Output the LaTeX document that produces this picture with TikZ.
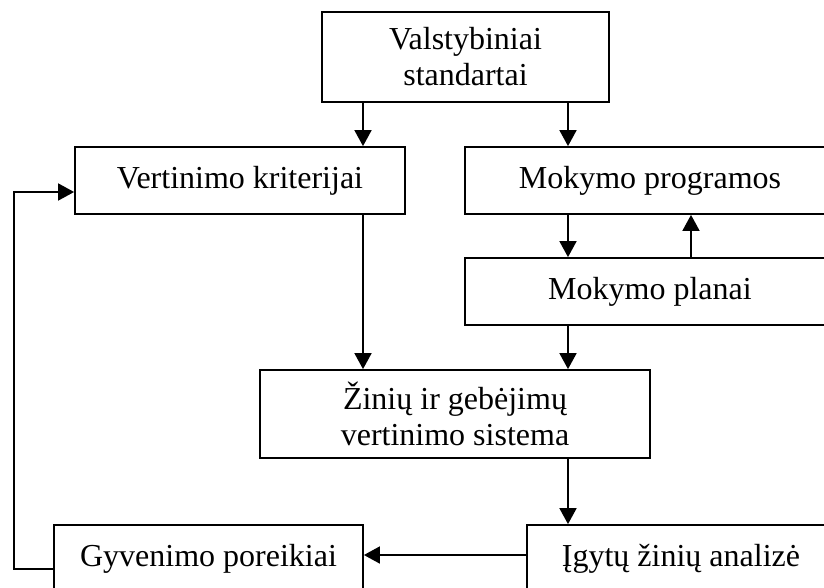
\documentclass[tikz,border=0pt]{standalone}
\usepackage{fontspec}
\setmainfont{Liberation Serif}
\usetikzlibrary{arrows.meta}
\begin{document}
\begin{tikzpicture}[x=1pt,y=-1pt,
  box/.style={draw,line width=1.8pt,inner sep=0pt,align=center,
    font=\fontsize{32}{36}\selectfont},
  arr/.style={line width=1.8pt,-{Triangle[length=16pt,width=17pt]}}]
\clip (0,0) rectangle (824,587);
\fill[white] (0,0) rectangle (824,587);
% columns used by the vertical connectors
\coordinate (c0) at (14,0);
\coordinate (c1) at (363,0);
\coordinate (c2) at (568,0);
\coordinate (c3) at (691,0);
% boxes
\node[box,minimum width=287pt,minimum height=90pt] (vs) at (465.5,57) {Valstybiniai\\standartai};
\node[box,minimum width=330pt,minimum height=67pt] (vk) at (240,180.5) {Vertinimo kriterijai};
\node[box,minimum width=370pt,minimum height=67pt] (mp) at (650,180.5) {Mokymo programos};
\node[box,minimum width=370pt,minimum height=67pt] (mpl) at (650,291.5) {Mokymo planai};
\node[box,minimum width=390pt,minimum height=88pt] (zs) at (455,414) {Žinių ir gebėjimų\\vertinimo sistema};
\node[box,minimum width=309pt,minimum height=67pt] (gp) at (208.5,558.5) {Gyvenimo poreikiai};
\node[box,minimum width=308pt,minimum height=67pt] (ia) at (681,558.5) {Įgytų žinių analizė};
% connectors
\draw[arr] (vs.south -| c1) -- (vk.north -| c1);
\draw[arr] (vs.south -| c2) -- (mp.north -| c2);
\draw[arr] (mp.south -| c2) -- (mpl.north -| c2);
\draw[arr] (mpl.north -| c3) -- (mp.south -| c3);
\draw[arr] (vk.south -| c1) -- (zs.north -| c1);
\draw[arr] (mpl.south -| c2) -- (zs.north -| c2);
\draw[arr] (zs.south -| c2) -- (ia.north -| c2);
\draw[arr] ([yshift=3.5pt]ia.west) -- ([yshift=3.5pt]gp.east);
\coordinate (fbs) at ([yshift=-10.5pt]gp.west);
\coordinate (fbe) at ([yshift=-11.5pt]vk.west);
\draw[arr] (fbs) -- (fbs -| c0) -- (fbe -| c0) -- (fbe);
\end{tikzpicture}
\end{document}
